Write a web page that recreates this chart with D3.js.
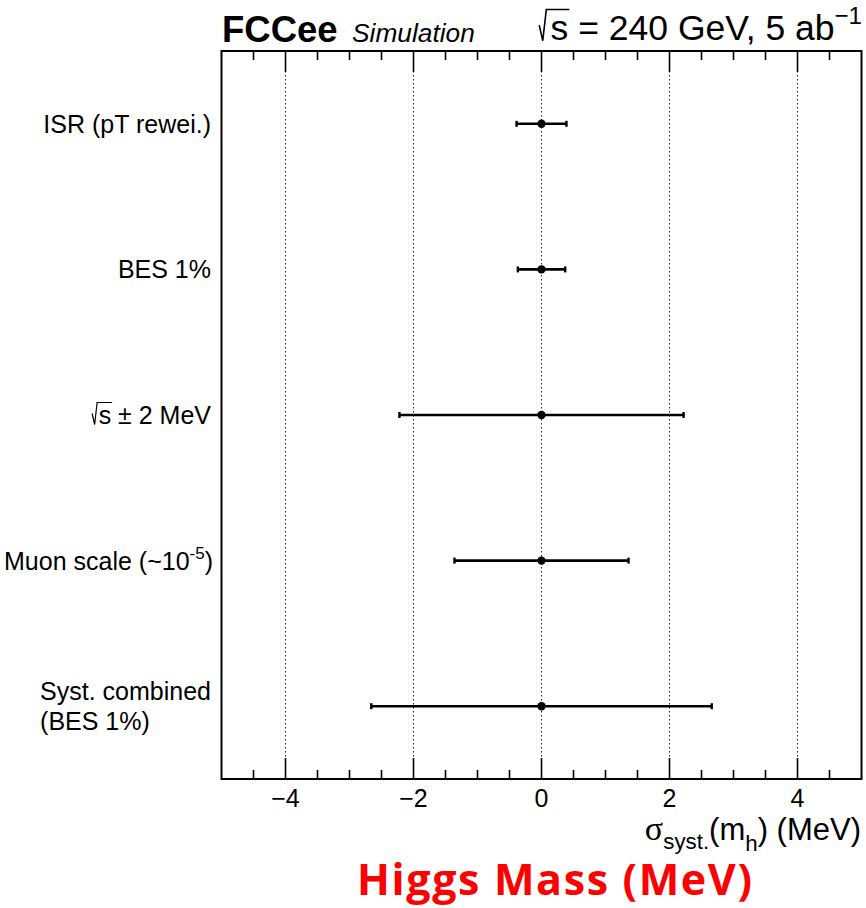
<!DOCTYPE html>
<html><head><meta charset="utf-8">
<script src="https://cdn.jsdelivr.net/npm/d3@7"></script>
<style>body{margin:0;background:#fff} svg{display:block}</style>
</head><body>
<svg id="chart" width="866" height="908"></svg>
<script>
// Systematic uncertainty sources on the Higgs mass (MeV)
const categories = ["ISR (pT rewei.)", "BES 1%", "√s ± 2 MeV", "Muon scale (~10^-5)", "Syst. combined\n(BES 1%)"];
const centralValues = [0, 0, 0, 0, 0];
const errLow  = [0.39, 0.37, 2.22, 1.36, 2.66];
const errHigh = [0.39, 0.37, 2.22, 1.36, 2.66];
const xMajorTicks = [-4, -2, 0, 2, 4];
const xTickLabels = ["\u22124", "\u22122", "0", "2", "4"];
const xDomain = [-5, 5];

const FONT = "'Liberation Sans', Arial, Helvetica, sans-serif";
const svg = d3.select("#chart");
const frame = {left: 221.5, right: 861.5, top: 51, bottom: 779};

const x = d3.scaleLinear().domain(xDomain).range([frame.left, frame.right]);
const y = d3.scaleBand().domain(categories).range([frame.top, frame.bottom]);
const yc = c => y(c) + y.bandwidth() / 2;

// dotted grid at the major ticks
svg.append("g").selectAll("line").data(xMajorTicks).join("line")
  .attr("x1", d => x(d)).attr("x2", d => x(d))
  .attr("y1", frame.top).attr("y2", frame.bottom)
  .attr("stroke", "#222").attr("stroke-width", 1)
  .attr("stroke-dasharray", "1.5,2.5");

// bottom and top axes: majors every 2, minors every 0.5
const minorTicks = d3.range(-4.5, 5, 0.5).filter(v => !xMajorTicks.includes(v));

function drawTicks(yBase, dir) {
  const g = svg.append("g");
  g.selectAll("line.maj").data(xMajorTicks).join("line").attr("class", "maj")
    .attr("x1", d => x(d)).attr("x2", d => x(d))
    .attr("y1", yBase).attr("y2", yBase + dir * 21)
    .attr("stroke", "#000").attr("stroke-width", 1.6);
  g.selectAll("line.min").data(minorTicks).join("line").attr("class", "min")
    .attr("x1", d => x(d)).attr("x2", d => x(d))
    .attr("y1", yBase).attr("y2", yBase + dir * 9)
    .attr("stroke", "#000").attr("stroke-width", 1.6);
}
drawTicks(frame.bottom, -1);
drawTicks(frame.top, 1);

// tick labels
svg.append("g").selectAll("text").data(xMajorTicks).join("text")
  .attr("x", d => x(d)).attr("y", 807)
  .attr("text-anchor", "middle")
  .attr("font-family", FONT).attr("font-size", 25)
  .text((d, i) => xTickLabels[i]);

// frame
svg.append("rect")
  .attr("x", frame.left).attr("y", frame.top)
  .attr("width", frame.right - frame.left).attr("height", frame.bottom - frame.top)
  .attr("fill", "none").attr("stroke", "#000").attr("stroke-width", 2);

// error bars
const bars = svg.append("g");
categories.forEach((c, i) => {
  const cy = yc(c);
  const lo = centralValues[i] - errLow[i], hi = centralValues[i] + errHigh[i];
  bars.append("line").attr("x1", x(lo)).attr("x2", x(hi)).attr("y1", cy).attr("y2", cy)
    .attr("stroke", "#000").attr("stroke-width", 2.6);
  [lo, hi].forEach(v => bars.append("line")
    .attr("x1", x(v)).attr("x2", x(v)).attr("y1", cy - 3).attr("y2", cy + 3)
    .attr("stroke", "#000").attr("stroke-width", 2.4));
  bars.append("circle").attr("cx", x(centralValues[i])).attr("cy", cy).attr("r", 4.2).attr("fill", "#000");
});

// radical sign drawn over a text span
function radical(g, x0, xEnd, base, fs) {
  g.append("path")
    .attr("d", `M${x0},${base - 0.42 * fs} L${x0 + 0.1 * fs},${base + 0.02 * fs} L${x0 + 0.2 * fs},${base - 0.86 * fs} L${xEnd},${base - 0.86 * fs}`)
    .attr("fill", "none").attr("stroke", "#000").attr("stroke-width", Math.max(1.2, fs * 0.045));
}

// category labels
const LFS = 25, labelRight = 211;
const lg = svg.append("g").attr("font-family", FONT).attr("font-size", LFS);
categories.forEach(c => {
  const cy = yc(c);
  if (c.includes("\n")) {
    const lines = c.split("\n");
    const t1 = lg.append("text").attr("x", labelRight).attr("y", cy - 15 + 0.36 * LFS)
      .attr("text-anchor", "end").text(lines[0]);
    const left = labelRight - t1.node().getComputedTextLength();
    lg.append("text").attr("x", left).attr("y", cy + 15 + 0.36 * LFS).text(lines[1]);
  } else if (c.startsWith("√")) {
    const base = cy + 0.36 * LFS;
    const t = lg.append("text").attr("x", labelRight).attr("y", base).attr("text-anchor", "end")
      .text(c.slice(1));
    const w = t.node().getComputedTextLength();
    const sx = labelRight - w;
    const sw = t.node().getSubStringLength(0, 1);
    radical(lg, sx - 0.26 * LFS, sx + sw + 1, base, LFS);
  } else if (c.includes("^")) {
    const [main, rest] = c.split("^");
    const sup = rest.replace(")", "");
    const t = lg.append("text").attr("x", labelRight + 2).attr("y", cy + 0.36 * LFS).attr("text-anchor", "end");
    t.append("tspan").text(main);
    t.append("tspan").attr("font-size", LFS * 0.68).attr("dy", -0.42 * LFS).text(sup);
    t.append("tspan").attr("dy", 0.42 * LFS).text(")");
  } else {
    lg.append("text").attr("x", labelRight).attr("y", cy + 0.36 * LFS).attr("text-anchor", "end").text(c);
  }
});

// header
svg.append("text").attr("x", 222).attr("y", 42)
  .attr("font-family", FONT).attr("font-weight", "bold").attr("font-size", 36.5).text("FCCee");
svg.append("text").attr("x", 352).attr("y", 42)
  .attr("font-family", FONT).attr("font-style", "italic").attr("font-size", 26.3).text("Simulation");

const HFS = 35.5;
const hg = svg.append("g").attr("font-family", FONT).attr("font-size", HFS);
const ht = hg.append("text").attr("x", 862).attr("y", 40).attr("text-anchor", "end");
ht.append("tspan").text("s = 240 GeV, 5 ab");
ht.append("tspan").attr("font-size", HFS * 0.68).attr("dy", -0.45 * HFS).text("\u22121");
{
  const n = ht.node();
  const startX = n.getStartPositionOfChar(0).x;
  const sEnd = n.getEndPositionOfChar(0).x;
  radical(hg, startX - 0.32 * HFS, sEnd + 1, 40, HFS);
}

// x-axis title
const TFS = 31;
const tt = svg.append("text").attr("x", 861).attr("y", 840).attr("text-anchor", "end")
  .attr("font-family", FONT).attr("font-size", TFS);
tt.append("tspan").attr("font-family", "'Liberation Serif', 'DejaVu Serif', serif").attr("font-size", TFS * 1.1).text("σ");
tt.append("tspan").attr("font-size", TFS * 0.72).attr("dy", 9).text("syst.");
tt.append("tspan").attr("dy", -9).text("(m");
tt.append("tspan").attr("font-size", TFS * 0.72).attr("dy", 11).text("h");
tt.append("tspan").attr("dy", -11).text(") (MeV)");

// red caption
const cap = svg.append("text").attr("x", 357).attr("y", 895)
  .attr("font-family", "'Open Sans', Lato, sans-serif").attr("font-weight", "bold")
  .attr("font-size", 43).attr("fill", "#ff0000").text("Higgs Mass (MeV)");
{
  const s = "Higgs Mass (MeV)";
  const w = cap.node().getComputedTextLength();
  cap.attr("letter-spacing", (395 - w) / (s.length - 1));
}
</script>
</body></html>
